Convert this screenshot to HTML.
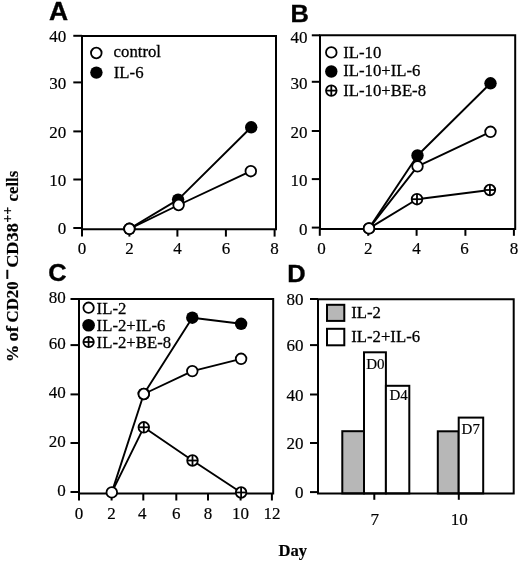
<!DOCTYPE html>
<html><head><meta charset="utf-8"><style>
html,body{margin:0;padding:0;background:#fff;}
svg{display:block;will-change:transform;filter:blur(0.3px);}
text{font-family:"Liberation Serif",serif;fill:#000;}
</style></head><body>
<svg width="520" height="561" viewBox="0 0 520 561">
<rect width="520" height="561" fill="#fff"/>
<path d="M82,36 H276 V229.3 H82 Z" fill="none" stroke="#000" stroke-width="2.0" stroke-linejoin="miter"/>
<line x1="73.30" y1="228.00" x2="82.00" y2="228.00" stroke="#000" stroke-width="2.0"/>
<text x="0" y="0" transform="translate(66.30,234.20)" font-size="17" text-anchor="end" stroke="#000" stroke-width="0.18" >0</text>
<line x1="73.30" y1="179.50" x2="82.00" y2="179.50" stroke="#000" stroke-width="2.0"/>
<text x="0" y="0" transform="translate(66.30,185.70)" font-size="17" text-anchor="end" stroke="#000" stroke-width="0.18" >10</text>
<line x1="73.30" y1="131.40" x2="82.00" y2="131.40" stroke="#000" stroke-width="2.0"/>
<text x="0" y="0" transform="translate(66.30,137.60)" font-size="17" text-anchor="end" stroke="#000" stroke-width="0.18" >20</text>
<line x1="73.30" y1="82.40" x2="82.00" y2="82.40" stroke="#000" stroke-width="2.0"/>
<text x="0" y="0" transform="translate(66.30,88.60)" font-size="17" text-anchor="end" stroke="#000" stroke-width="0.18" >30</text>
<line x1="73.30" y1="35.80" x2="82.00" y2="35.80" stroke="#000" stroke-width="2.0"/>
<text x="0" y="0" transform="translate(66.30,42.00)" font-size="17" text-anchor="end" stroke="#000" stroke-width="0.18" >40</text>
<line x1="82.00" y1="229.30" x2="82.00" y2="236.60" stroke="#000" stroke-width="2.0"/>
<text x="0" y="0" transform="translate(82.00,253.90)" font-size="17" text-anchor="middle" stroke="#000" stroke-width="0.18" >0</text>
<line x1="129.40" y1="229.30" x2="129.40" y2="236.60" stroke="#000" stroke-width="2.0"/>
<text x="0" y="0" transform="translate(129.40,253.90)" font-size="17" text-anchor="middle" stroke="#000" stroke-width="0.18" >2</text>
<line x1="177.40" y1="229.30" x2="177.40" y2="236.60" stroke="#000" stroke-width="2.0"/>
<text x="0" y="0" transform="translate(177.40,253.90)" font-size="17" text-anchor="middle" stroke="#000" stroke-width="0.18" >4</text>
<line x1="225.90" y1="229.30" x2="225.90" y2="236.60" stroke="#000" stroke-width="2.0"/>
<text x="0" y="0" transform="translate(225.90,253.90)" font-size="17" text-anchor="middle" stroke="#000" stroke-width="0.18" >6</text>
<line x1="274.60" y1="229.30" x2="274.60" y2="236.60" stroke="#000" stroke-width="2.0"/>
<text x="0" y="0" transform="translate(274.60,253.90)" font-size="17" text-anchor="middle" stroke="#000" stroke-width="0.18" >8</text>
<path d="M129.40,228.80 L178.10,199.60 L251.20,127.30" fill="none" stroke="#000" stroke-width="1.9" stroke-linejoin="round"/>
<path d="M129.40,228.80 L178.60,205.00 L250.80,171.20" fill="none" stroke="#000" stroke-width="1.9" stroke-linejoin="round"/>
<circle cx="129.40" cy="228.80" r="6.20" fill="#000"/>
<circle cx="178.10" cy="199.60" r="6.20" fill="#000"/>
<circle cx="251.20" cy="127.30" r="6.20" fill="#000"/>
<circle cx="129.40" cy="228.80" r="5.3" fill="#fff" stroke="#000" stroke-width="1.8"/>
<circle cx="178.60" cy="205.00" r="5.3" fill="#fff" stroke="#000" stroke-width="1.8"/>
<circle cx="250.80" cy="171.20" r="5.3" fill="#fff" stroke="#000" stroke-width="1.8"/>
<circle cx="96.30" cy="53.00" r="5.3" fill="#fff" stroke="#000" stroke-width="1.8"/>
<circle cx="96.40" cy="72.60" r="6.20" fill="#000"/>
<text x="0" y="0" transform="translate(113.60,56.60) scale(0.957,1)" font-size="17.5" text-anchor="start" stroke="#000" stroke-width="0.3" >control</text>
<text x="0" y="0" transform="translate(113.80,78.30) scale(0.957,1)" font-size="17.5" text-anchor="start" stroke="#000" stroke-width="0.3" >IL-6</text>
<path d="M320,35.2 H515.2 V229 H320 Z" fill="none" stroke="#000" stroke-width="2.0" stroke-linejoin="miter"/>
<line x1="311.80" y1="227.60" x2="320.00" y2="227.60" stroke="#000" stroke-width="2.0"/>
<text x="0" y="0" transform="translate(307.40,234.80)" font-size="17" text-anchor="end" stroke="#000" stroke-width="0.18" >0</text>
<line x1="311.80" y1="179.10" x2="320.00" y2="179.10" stroke="#000" stroke-width="2.0"/>
<text x="0" y="0" transform="translate(307.40,186.30)" font-size="17" text-anchor="end" stroke="#000" stroke-width="0.18" >10</text>
<line x1="311.80" y1="131.00" x2="320.00" y2="131.00" stroke="#000" stroke-width="2.0"/>
<text x="0" y="0" transform="translate(307.40,138.20)" font-size="17" text-anchor="end" stroke="#000" stroke-width="0.18" >20</text>
<line x1="311.80" y1="81.80" x2="320.00" y2="81.80" stroke="#000" stroke-width="2.0"/>
<text x="0" y="0" transform="translate(307.40,89.00)" font-size="17" text-anchor="end" stroke="#000" stroke-width="0.18" >30</text>
<line x1="311.80" y1="35.30" x2="320.00" y2="35.30" stroke="#000" stroke-width="2.0"/>
<text x="0" y="0" transform="translate(307.40,42.50)" font-size="17" text-anchor="end" stroke="#000" stroke-width="0.18" >40</text>
<line x1="319.80" y1="229.00" x2="319.80" y2="235.80" stroke="#000" stroke-width="2.0"/>
<text x="0" y="0" transform="translate(321.40,253.90)" font-size="17" text-anchor="middle" stroke="#000" stroke-width="0.18" >0</text>
<line x1="368.20" y1="229.00" x2="368.20" y2="235.80" stroke="#000" stroke-width="2.0"/>
<text x="0" y="0" transform="translate(368.20,253.90)" font-size="17" text-anchor="middle" stroke="#000" stroke-width="0.18" >2</text>
<line x1="416.60" y1="229.00" x2="416.60" y2="235.80" stroke="#000" stroke-width="2.0"/>
<text x="0" y="0" transform="translate(416.60,253.90)" font-size="17" text-anchor="middle" stroke="#000" stroke-width="0.18" >4</text>
<line x1="465.40" y1="229.00" x2="465.40" y2="235.80" stroke="#000" stroke-width="2.0"/>
<text x="0" y="0" transform="translate(464.60,253.90)" font-size="17" text-anchor="middle" stroke="#000" stroke-width="0.18" >6</text>
<line x1="513.90" y1="229.00" x2="513.90" y2="235.80" stroke="#000" stroke-width="2.0"/>
<text x="0" y="0" transform="translate(513.90,253.90)" font-size="17" text-anchor="middle" stroke="#000" stroke-width="0.18" >8</text>
<path d="M369.00,228.40 L417.50,155.50 L490.50,83.30" fill="none" stroke="#000" stroke-width="1.9" stroke-linejoin="round"/>
<path d="M369.00,228.40 L417.50,166.30 L490.50,131.80" fill="none" stroke="#000" stroke-width="1.9" stroke-linejoin="round"/>
<path d="M369.00,228.40 L417.00,199.20 L489.90,190.00" fill="none" stroke="#000" stroke-width="1.9" stroke-linejoin="round"/>
<circle cx="369.00" cy="228.40" r="6.20" fill="#000"/>
<circle cx="417.50" cy="155.50" r="6.20" fill="#000"/>
<circle cx="490.50" cy="83.30" r="6.20" fill="#000"/>
<circle cx="417.00" cy="199.20" r="5.3" fill="#fff" stroke="#000" stroke-width="1.8"/>
<line x1="411.70" y1="199.20" x2="422.30" y2="199.20" stroke="#000" stroke-width="1.8"/>
<line x1="417.00" y1="193.90" x2="417.00" y2="204.50" stroke="#000" stroke-width="1.8"/>
<circle cx="489.90" cy="190.00" r="5.3" fill="#fff" stroke="#000" stroke-width="1.8"/>
<line x1="484.60" y1="190.00" x2="495.20" y2="190.00" stroke="#000" stroke-width="1.8"/>
<line x1="489.90" y1="184.70" x2="489.90" y2="195.30" stroke="#000" stroke-width="1.8"/>
<circle cx="369.00" cy="228.40" r="5.3" fill="#fff" stroke="#000" stroke-width="1.8"/>
<circle cx="417.50" cy="166.30" r="5.3" fill="#fff" stroke="#000" stroke-width="1.8"/>
<circle cx="490.50" cy="131.80" r="5.3" fill="#fff" stroke="#000" stroke-width="1.8"/>
<circle cx="331.30" cy="52.40" r="5.3" fill="#fff" stroke="#000" stroke-width="1.8"/>
<circle cx="331.30" cy="71.50" r="6.20" fill="#000"/>
<circle cx="331.30" cy="90.60" r="5.3" fill="#fff" stroke="#000" stroke-width="1.8"/>
<line x1="326.00" y1="90.60" x2="336.60" y2="90.60" stroke="#000" stroke-width="1.8"/>
<line x1="331.30" y1="85.30" x2="331.30" y2="95.90" stroke="#000" stroke-width="1.8"/>
<text x="0" y="0" transform="translate(343.20,58.00) scale(0.957,1)" font-size="17.5" text-anchor="start" stroke="#000" stroke-width="0.3" >IL-10</text>
<text x="0" y="0" transform="translate(343.20,76.00) scale(0.957,1)" font-size="17.5" text-anchor="start" stroke="#000" stroke-width="0.3" >IL-10+IL-6</text>
<text x="0" y="0" transform="translate(343.20,96.30) scale(0.957,1)" font-size="17.5" text-anchor="start" stroke="#000" stroke-width="0.3" >IL-10+BE-8</text>
<path d="M79,299 H273.2 V493.6 H79 Z" fill="none" stroke="#000" stroke-width="2.0" stroke-linejoin="miter"/>
<line x1="70.50" y1="492.00" x2="79.00" y2="492.00" stroke="#000" stroke-width="2.0"/>
<text x="0" y="0" transform="translate(65.80,495.90)" font-size="17" text-anchor="end" stroke="#000" stroke-width="0.18" >0</text>
<line x1="70.50" y1="443.00" x2="79.00" y2="443.00" stroke="#000" stroke-width="2.0"/>
<text x="0" y="0" transform="translate(65.80,446.90)" font-size="17" text-anchor="end" stroke="#000" stroke-width="0.18" >20</text>
<line x1="70.50" y1="394.40" x2="79.00" y2="394.40" stroke="#000" stroke-width="2.0"/>
<text x="0" y="0" transform="translate(65.80,398.30)" font-size="17" text-anchor="end" stroke="#000" stroke-width="0.18" >40</text>
<line x1="70.50" y1="345.10" x2="79.00" y2="345.10" stroke="#000" stroke-width="2.0"/>
<text x="0" y="0" transform="translate(65.80,349.00)" font-size="17" text-anchor="end" stroke="#000" stroke-width="0.18" >60</text>
<line x1="70.50" y1="299.00" x2="79.00" y2="299.00" stroke="#000" stroke-width="2.0"/>
<text x="0" y="0" transform="translate(65.80,302.90)" font-size="17" text-anchor="end" stroke="#000" stroke-width="0.18" >80</text>
<line x1="79.00" y1="493.60" x2="79.00" y2="500.50" stroke="#000" stroke-width="2.0"/>
<text x="0" y="0" transform="translate(79.00,519.00)" font-size="17" text-anchor="middle" stroke="#000" stroke-width="0.18" >0</text>
<line x1="111.60" y1="493.60" x2="111.60" y2="500.50" stroke="#000" stroke-width="2.0"/>
<text x="0" y="0" transform="translate(111.60,519.00)" font-size="17" text-anchor="middle" stroke="#000" stroke-width="0.18" >2</text>
<line x1="143.30" y1="493.60" x2="143.30" y2="500.50" stroke="#000" stroke-width="2.0"/>
<text x="0" y="0" transform="translate(142.30,519.00)" font-size="17" text-anchor="middle" stroke="#000" stroke-width="0.18" >4</text>
<line x1="176.30" y1="493.60" x2="176.30" y2="500.50" stroke="#000" stroke-width="2.0"/>
<text x="0" y="0" transform="translate(176.30,519.00)" font-size="17" text-anchor="middle" stroke="#000" stroke-width="0.18" >6</text>
<line x1="208.00" y1="493.60" x2="208.00" y2="500.50" stroke="#000" stroke-width="2.0"/>
<text x="0" y="0" transform="translate(208.00,519.00)" font-size="17" text-anchor="middle" stroke="#000" stroke-width="0.18" >8</text>
<line x1="240.60" y1="493.60" x2="240.60" y2="500.50" stroke="#000" stroke-width="2.0"/>
<text x="0" y="0" transform="translate(240.60,519.00)" font-size="17" text-anchor="middle" stroke="#000" stroke-width="0.18" >10</text>
<line x1="271.90" y1="493.60" x2="271.90" y2="500.50" stroke="#000" stroke-width="2.0"/>
<text x="0" y="0" transform="translate(271.90,519.00)" font-size="17" text-anchor="middle" stroke="#000" stroke-width="0.18" >12</text>
<path d="M143.80,394.00 L192.30,317.70 L241.10,323.80" fill="none" stroke="#000" stroke-width="1.9" stroke-linejoin="round"/>
<path d="M111.80,492.40 L143.80,394.00 L192.30,371.10 L241.10,358.80" fill="none" stroke="#000" stroke-width="1.9" stroke-linejoin="round"/>
<path d="M111.80,492.40 L143.80,427.30 L192.50,460.50 L241.10,492.50" fill="none" stroke="#000" stroke-width="1.9" stroke-linejoin="round"/>
<circle cx="143.80" cy="394.00" r="6.20" fill="#000"/>
<circle cx="192.30" cy="317.70" r="6.20" fill="#000"/>
<circle cx="241.10" cy="323.80" r="6.20" fill="#000"/>
<circle cx="111.80" cy="492.40" r="5.3" fill="#fff" stroke="#000" stroke-width="1.8"/>
<circle cx="143.80" cy="394.00" r="5.3" fill="#fff" stroke="#000" stroke-width="1.8"/>
<circle cx="192.30" cy="371.10" r="5.3" fill="#fff" stroke="#000" stroke-width="1.8"/>
<circle cx="241.10" cy="358.80" r="5.3" fill="#fff" stroke="#000" stroke-width="1.8"/>
<circle cx="143.80" cy="427.30" r="5.3" fill="#fff" stroke="#000" stroke-width="1.8"/>
<line x1="138.50" y1="427.30" x2="149.10" y2="427.30" stroke="#000" stroke-width="1.8"/>
<line x1="143.80" y1="422.00" x2="143.80" y2="432.60" stroke="#000" stroke-width="1.8"/>
<circle cx="192.50" cy="460.50" r="5.3" fill="#fff" stroke="#000" stroke-width="1.8"/>
<line x1="187.20" y1="460.50" x2="197.80" y2="460.50" stroke="#000" stroke-width="1.8"/>
<line x1="192.50" y1="455.20" x2="192.50" y2="465.80" stroke="#000" stroke-width="1.8"/>
<circle cx="241.10" cy="492.50" r="5.3" fill="#fff" stroke="#000" stroke-width="1.8"/>
<line x1="235.80" y1="492.50" x2="246.40" y2="492.50" stroke="#000" stroke-width="1.8"/>
<line x1="241.10" y1="487.20" x2="241.10" y2="497.80" stroke="#000" stroke-width="1.8"/>
<circle cx="88.60" cy="307.70" r="5.2" fill="#fff" stroke="#000" stroke-width="1.8"/>
<circle cx="88.60" cy="325.30" r="6.30" fill="#000"/>
<circle cx="88.60" cy="342.00" r="5.2" fill="#fff" stroke="#000" stroke-width="1.8"/>
<line x1="83.40" y1="342.00" x2="93.80" y2="342.00" stroke="#000" stroke-width="1.8"/>
<line x1="88.60" y1="336.80" x2="88.60" y2="347.20" stroke="#000" stroke-width="1.8"/>
<text x="0" y="0" transform="translate(96.60,313.50) scale(0.957,1)" font-size="17.5" text-anchor="start" stroke="#000" stroke-width="0.3" >IL-2</text>
<text x="0" y="0" transform="translate(96.60,331.10) scale(0.957,1)" font-size="17.5" text-anchor="start" stroke="#000" stroke-width="0.3" >IL-2+IL-6</text>
<text x="0" y="0" transform="translate(96.60,347.80) scale(0.957,1)" font-size="17.5" text-anchor="start" stroke="#000" stroke-width="0.3" >IL-2+BE-8</text>
<rect x="342.3" y="431.2" width="21.70" height="62.20" fill="#b7b7b7" stroke="#000" stroke-width="2.0"/>
<rect x="364" y="352.3" width="21.90" height="141.10" fill="#fff" stroke="#000" stroke-width="2.0"/>
<rect x="385.9" y="385.8" width="23.40" height="107.60" fill="#fff" stroke="#000" stroke-width="2.0"/>
<rect x="437.8" y="431.3" width="20.90" height="62.10" fill="#b7b7b7" stroke="#000" stroke-width="2.0"/>
<rect x="458.7" y="417.6" width="24.50" height="75.80" fill="#fff" stroke="#000" stroke-width="2.0"/>
<path d="M318,299.3 H513.7 V493.6 H318 Z" fill="none" stroke="#000" stroke-width="2.0" stroke-linejoin="miter"/>
<line x1="310.00" y1="492.10" x2="318.00" y2="492.10" stroke="#000" stroke-width="2.0"/>
<text x="0" y="0" transform="translate(303.60,498.10)" font-size="17" text-anchor="end" stroke="#000" stroke-width="0.18" >0</text>
<line x1="310.00" y1="443.00" x2="318.00" y2="443.00" stroke="#000" stroke-width="2.0"/>
<text x="0" y="0" transform="translate(303.60,449.00)" font-size="17" text-anchor="end" stroke="#000" stroke-width="0.18" >20</text>
<line x1="310.00" y1="394.50" x2="318.00" y2="394.50" stroke="#000" stroke-width="2.0"/>
<text x="0" y="0" transform="translate(303.60,400.50)" font-size="17" text-anchor="end" stroke="#000" stroke-width="0.18" >40</text>
<line x1="310.00" y1="345.10" x2="318.00" y2="345.10" stroke="#000" stroke-width="2.0"/>
<text x="0" y="0" transform="translate(303.60,351.10)" font-size="17" text-anchor="end" stroke="#000" stroke-width="0.18" >60</text>
<line x1="310.00" y1="299.00" x2="318.00" y2="299.00" stroke="#000" stroke-width="2.0"/>
<text x="0" y="0" transform="translate(303.60,305.00)" font-size="17" text-anchor="end" stroke="#000" stroke-width="0.18" >80</text>
<line x1="374.30" y1="493.50" x2="374.30" y2="499.80" stroke="#000" stroke-width="2.0"/>
<text x="0" y="0" transform="translate(374.70,524.50)" font-size="17" text-anchor="middle" stroke="#000" stroke-width="0.18" >7</text>
<line x1="458.80" y1="493.50" x2="458.80" y2="499.80" stroke="#000" stroke-width="2.0"/>
<text x="0" y="0" transform="translate(459.20,524.50)" font-size="17" text-anchor="middle" stroke="#000" stroke-width="0.18" >10</text>
<text x="0" y="0" transform="translate(366.20,369.30)" font-size="15" text-anchor="start" stroke="#000" stroke-width="0.18" >D0</text>
<text x="0" y="0" transform="translate(389.40,399.80)" font-size="15" text-anchor="start" stroke="#000" stroke-width="0.18" >D4</text>
<text x="0" y="0" transform="translate(461.60,434.40)" font-size="15" text-anchor="start" stroke="#000" stroke-width="0.18" >D7</text>
<rect x="327" y="304.8" width="17.3" height="16.1" fill="#b7b7b7" stroke="#000" stroke-width="2"/>
<rect x="327" y="328.8" width="17.3" height="16.5" fill="#fff" stroke="#000" stroke-width="2"/>
<text x="0" y="0" transform="translate(351.20,318.20) scale(0.957,1)" font-size="17.5" text-anchor="start" stroke="#000" stroke-width="0.3" >IL-2</text>
<text x="0" y="0" transform="translate(351.20,342.20) scale(0.957,1)" font-size="17.5" text-anchor="start" stroke="#000" stroke-width="0.3" >IL-2+IL-6</text>
<text x="0" y="0" font-size="25" transform="translate(49.00,20.00) scale(1.06,1)" style="font-family:'Liberation Sans',sans-serif;font-weight:bold;stroke:#000;stroke-width:0.35">A</text>
<text x="0" y="0" font-size="24" transform="translate(290.60,21.60) scale(1.06,1)" style="font-family:'Liberation Sans',sans-serif;font-weight:bold;stroke:#000;stroke-width:0.35">B</text>
<text x="0" y="0" font-size="24" transform="translate(48.20,281.00) scale(1.06,1)" style="font-family:'Liberation Sans',sans-serif;font-weight:bold;stroke:#000;stroke-width:0.35">C</text>
<text x="0" y="0" font-size="24" transform="translate(287.20,281.50) scale(1.06,1)" style="font-family:'Liberation Sans',sans-serif;font-weight:bold;stroke:#000;stroke-width:0.35">D</text>
<text x="-361.97" y="0" font-size="17" font-weight="bold" textLength="17.29" lengthAdjust="spacingAndGlyphs" transform="translate(17.70,0) rotate(-90)" stroke="#000" stroke-width="0.2">%</text>
<text x="-341.61" y="0" font-size="17" font-weight="bold" textLength="15.53" lengthAdjust="spacingAndGlyphs" transform="translate(17.70,0) rotate(-90)" stroke="#000" stroke-width="0.2">of</text>
<text x="-322.42" y="0" font-size="17" font-weight="bold" textLength="41.06" lengthAdjust="spacingAndGlyphs" transform="translate(17.70,0) rotate(-90)" stroke="#000" stroke-width="0.2">CD20</text>
<text x="-279.56" y="0" font-size="17" font-weight="bold" textLength="10.42" lengthAdjust="spacingAndGlyphs" transform="translate(12.70,0) rotate(-90)" stroke="#000" stroke-width="0.7">−</text>
<text x="-267.89" y="0" font-size="17" font-weight="bold" textLength="44.75" lengthAdjust="spacingAndGlyphs" transform="translate(17.70,0) rotate(-90)" stroke="#000" stroke-width="0.2">CD38</text>
<text x="-222.63" y="0" font-size="14" font-weight="bold" textLength="15.86" lengthAdjust="spacingAndGlyphs" transform="translate(11.50,0) rotate(-90)" stroke="#000" stroke-width="0.2">++</text>
<text x="-201.47" y="0" font-size="17" font-weight="bold" textLength="30.68" lengthAdjust="spacingAndGlyphs" transform="translate(17.70,0) rotate(-90)" stroke="#000" stroke-width="0.2">cells</text>
<text x="278.51" y="555.8" font-size="16.5" font-weight="bold" textLength="28.55" lengthAdjust="spacingAndGlyphs" stroke="#000" stroke-width="0.2">Day</text>
</svg>
</body></html>
